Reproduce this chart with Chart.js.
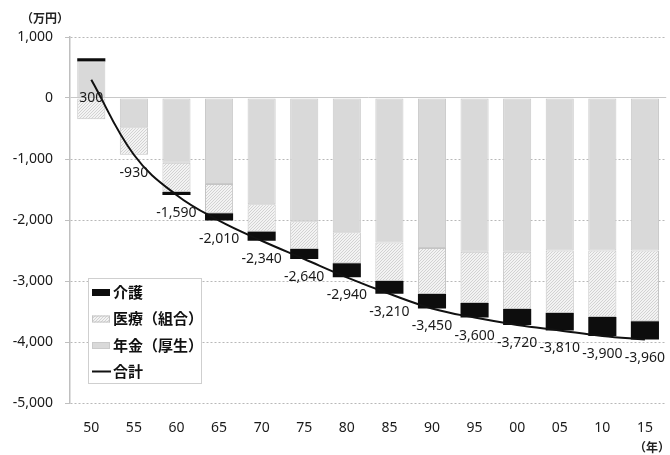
<!DOCTYPE html>
<html lang="ja">
<head>
  <meta charset="UTF-8">
  <title>世代別の受益と負担</title>
  <script src="https://cdn.jsdelivr.net/npm/chart.js@4.4.1/dist/chart.umd.min.js"></script>
  <style>
    body { margin: 0; background: #fff; }
    .wrap { position: relative; width: 670px; height: 455px; }
  </style>
</head>
<body>
  <div class="wrap"><canvas id="chart"></canvas></div>

  <script>
  // 生まれ年（西暦下2桁）
  const years = ['50', '55', '60', '65', '70', '75', '80', '85', '90', '95', '00', '05', '10', '15'];
  // 内訳（万円）
  const nenkin = [600, -480, -1060, -1410, -1740, -2020, -2200, -2370, -2460, -2520, -2520, -2500, -2500, -2500];
  const iryo   = [-350, -450, -480, -480, -450, -450, -510, -630, -750, -840, -940, -1020, -1090, -1160];
  const kaigo  = [50, 0, -50, -120, -150, -170, -230, -210, -240, -240, -260, -290, -310, -300];
  // 合計（万円）
  const total  = [300, -930, -1590, -2010, -2340, -2640, -2940, -3210, -3450, -3600, -3720, -3810, -3900, -3960];

  const FONT = "'Noto Sans', 'Noto Sans CJK JP', sans-serif";
  const JP = "'Noto Sans CJK JP', sans-serif";

  // 医療の斜線模様（細かめ）
  function hatch() {
    const c = document.createElement('canvas');
    c.width = 3; c.height = 3;
    const g = c.getContext('2d');
    g.fillStyle = '#f3f3f3';
    g.fillRect(0, 0, 3, 3);
    g.fillStyle = '#d2d2d2';
    g.fillRect(2, 0, 1, 1);
    g.fillRect(1, 1, 1, 1);
    g.fillRect(0, 2, 1, 1);
    return g.createPattern(c, 'repeat');
  }
  const hatchFill = hatch();

  // 合計の数値ラベル
  const valueLabels = {
    id: 'valueLabels',
    afterDatasetsDraw(chart) {
      const ctx = chart.ctx;
      const meta = chart.getDatasetMeta(3);
      ctx.save();
      ctx.font = '14px ' + FONT;
      ctx.fillStyle = '#1a1a1a';
      ctx.textAlign = 'center';
      ctx.textBaseline = 'middle';
      meta.data.forEach((pt, i) => {
        ctx.fillText(total[i].toLocaleString('en-US'), pt.x, pt.y + 18);
      });
      ctx.restore();
    }
  };

  // 凡例・単位
  const boxLegend = {
    id: 'boxLegend',
    afterDraw(chart) {
      const ctx = chart.ctx;
      ctx.save();
      ctx.fillStyle = '#fff';
      ctx.fillRect(88, 278, 114, 106);
      ctx.strokeStyle = '#cfcfcf';
      ctx.lineWidth = 1;
      ctx.strokeRect(88.5, 278.5, 113, 105);

      // 介護・医療・年金・合計の順
      const items = [2, 1, 0, 3];
      ctx.font = 'bold 15px ' + JP;
      ctx.textBaseline = 'middle';
      ctx.textAlign = 'left';
      items.forEach((di, k) => {
        const ds = chart.data.datasets[di];
        const y = 292 + k * 26.5;
        if (ds.type === 'line') {
          ctx.strokeStyle = ds.borderColor;
          ctx.lineWidth = 2;
          ctx.beginPath();
          ctx.moveTo(92, y);
          ctx.lineTo(111, y);
          ctx.stroke();
        } else {
          ctx.fillStyle = ds.backgroundColor;
          ctx.fillRect(92, y - 3, 18, 7);
          ctx.strokeStyle = ds.borderColor;
          ctx.strokeRect(92.5, y - 2.5, 17, 6);
        }
        ctx.fillStyle = '#111';
        ctx.fillText(ds.label, 113, y);
      });

      ctx.font = 'bold 12px ' + JP;
      ctx.textAlign = 'center';
      ctx.fillStyle = '#222';
      ctx.fillText('（万円）', 45, 18);
      ctx.fillText('（年）', 652, 447);
      ctx.restore();
    }
  };

  new Chart(document.getElementById('chart'), {
    data: {
      labels: years,
      datasets: [
        {
          type: 'bar',
          label: '年金（厚生）',
          data: nenkin,
          backgroundColor: '#d9d9d9',
          borderColor: '#cacaca',
          borderWidth: 1,
          borderSkipped: false,
          order: 1
        },
        {
          type: 'bar',
          label: '医療（組合）',
          data: iryo,
          backgroundColor: hatchFill,
          borderColor: '#c4c4c4',
          borderWidth: 1,
          borderSkipped: false,
          order: 1
        },
        {
          type: 'bar',
          label: '介護',
          data: kaigo,
          backgroundColor: '#0d0d0d',
          borderColor: '#0d0d0d',
          borderWidth: 0,
          order: 1
        },
        {
          type: 'line',
          label: '合計',
          data: total,
          stack: 'total',
          borderColor: '#111',
          borderWidth: 2,
          pointRadius: 0,
          tension: 0.4,
          fill: false,
          order: 0
        }
      ]
    },
    options: {
      responsive: true,
      maintainAspectRatio: false,
      animation: false,
      layout: { padding: { top: 37, right: 2, left: 0, bottom: 0 } },
      datasets: { bar: { categoryPercentage: 1, barPercentage: 0.66 } },
      plugins: {
        legend: { display: false },
        tooltip: { enabled: false }
      },
      scales: {
        x: {
          stacked: true,
          grid: { display: false, drawTicks: false },
          border: { display: false },
          ticks: { color: '#1a1a1a', font: { family: FONT, size: 14 }, padding: 17 },
          afterFit(s) { s.height = 52; }
        },
        y: {
          stacked: true,
          min: -5000,
          max: 1000,
          grid: {
            color: ctx => ctx.tick && ctx.tick.value === 0 ? '#c8c8c8' : '#b8b8b8',
            tickColor: '#bfbfbf',
            tickLength: 5,
            lineWidth: 1
          },
          border: {
            display: true,
            color: '#bfbfbf',
            width: 1.5,
            dash: ctx => ctx.tick && ctx.tick.value === 0 ? [] : [2, 2]
          },
          ticks: {
            stepSize: 1000,
            color: '#1a1a1a',
            padding: 12,
            font: { family: FONT, size: 14 },
            callback: v => v.toLocaleString('en-US')
          },
          afterFit(s) { s.width = 70; }
        }
      }
    },
    plugins: [valueLabels, boxLegend]
  });
  </script>
</body>
</html>
